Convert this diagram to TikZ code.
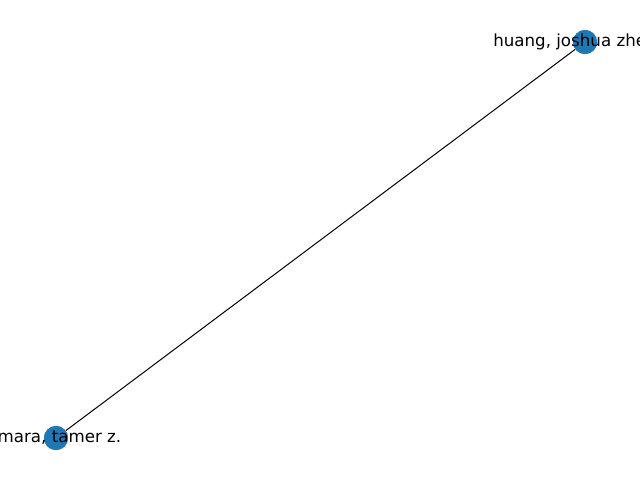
\documentclass[tikz,border=0pt]{standalone}
\usepackage{fontspec}
\setmainfont{DejaVu Sans}
\usepackage{tikz}
\usetikzlibrary{positioning}
\tikzset{
    author/.style={circle, fill={rgb,255:red,31;green,119;blue,180}, draw=none, minimum size=17.3pt, inner sep=0pt},
    authorname/.style={font=\fontsize{12}{14}\selectfont, inner sep=0pt, text=black},
    coauthor/.style={draw=black, line width=0.72pt}
}

\begin{document}
\begin{tikzpicture}[x=0.72pt,y=-0.72pt]
	\useasboundingbox (0,0) rectangle (640,480);
	\clip (0,0) rectangle (640,480);
	\node[author] (huang) at (585,42) {};
	\node[author] (tamer) at (56,438) {};
	\draw[coauthor] (huang) -- (tamer);
	\node[author] at (huang) {};
	\node[author] at (tamer) {};
	\node[authorname, anchor=west] at (493,42) {huang, joshua zhe};
	\node[authorname, anchor=east] at (121.5,438) {mara, tamer z.};
\end{tikzpicture}
\end{document}
